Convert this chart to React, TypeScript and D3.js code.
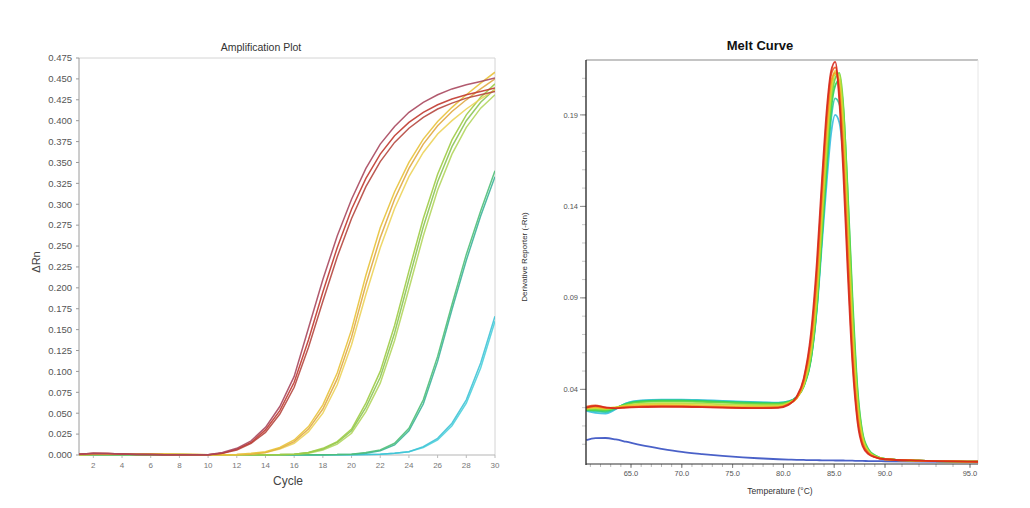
import React from 'react';
import * as d3 from 'd3';

// ---------- Amplification plot data ----------
const cycles = [1,2,3,4,5,6,7,8,9,10,11,12,13,14,15,16,17,18,19,20,21,22,23,24,25,26,27,28,29,30];
const ampYTicks = [0,0.025,0.05,0.075,0.1,0.125,0.15,0.175,0.2,0.225,0.25,0.275,0.3,0.325,0.35,0.375,0.4,0.425,0.45,0.475];
const ampXTicks = [2,4,6,8,10,12,14,16,18,20,22,24,26,28,30];

const ampRed1 = [0.0010,0.0022,0.0019,0.0012,0.0008,0.0006,0.0004,0.0003,0.0003,0.0004,0.003,0.008,0.017,0.033,0.058,0.094,0.152,0.210,0.262,0.306,0.343,0.372,0.393,0.410,0.422,0.431,0.438,0.443,0.447,0.451];
const ampRed2 = [0.0008,0.0018,0.0017,0.0011,0.0007,0.0005,0.0004,0.0003,0.0003,0.0004,0.002,0.007,0.015,0.030,0.053,0.087,0.138,0.195,0.248,0.294,0.331,0.360,0.382,0.398,0.410,0.419,0.426,0.431,0.435,0.439];
const ampRed3 = [0.0009,0.0020,0.0018,0.0012,0.0007,0.0005,0.0004,0.0003,0.0003,0.0003,0.002,0.006,0.014,0.027,0.049,0.081,0.129,0.184,0.237,0.283,0.321,0.351,0.374,0.391,0.404,0.414,0.421,0.427,0.431,0.435];
const ampYellow1 = [0.0006,0.0010,0.0010,0.0008,0.0009,0.0012,0.0011,0.0008,0.0005,0.0004,0.0004,0.0005,0.002,0.004,0.009,0.018,0.034,0.060,0.098,0.150,0.215,0.272,0.315,0.350,0.378,0.399,0.416,0.431,0.445,0.458];
const ampYellow2 = [0.0005,0.0009,0.0010,0.0009,0.0010,0.0012,0.0010,0.0007,0.0005,0.0004,0.0004,0.0005,0.001,0.003,0.008,0.016,0.031,0.055,0.091,0.141,0.204,0.260,0.306,0.343,0.372,0.394,0.411,0.425,0.438,0.450];
const ampYellow3 = [0.0006,0.0009,0.0009,0.0008,0.0009,0.0011,0.0010,0.0007,0.0005,0.0004,0.0004,0.0004,0.001,0.003,0.007,0.014,0.028,0.050,0.084,0.132,0.192,0.248,0.295,0.333,0.362,0.384,0.400,0.414,0.426,0.437];
const ampLime1 = [0.0004,0.0006,0.0007,0.0006,0.0006,0.0007,0.0007,0.0006,0.0004,0.0003,0.0003,0.0003,0.0004,0.0004,0.0005,0.001,0.003,0.008,0.016,0.031,0.062,0.100,0.155,0.220,0.283,0.336,0.377,0.407,0.428,0.444];
const ampLime2 = [0.0004,0.0005,0.0006,0.0006,0.0006,0.0007,0.0006,0.0005,0.0004,0.0003,0.0003,0.0003,0.0003,0.0004,0.0005,0.001,0.003,0.007,0.015,0.029,0.057,0.093,0.146,0.210,0.273,0.327,0.369,0.400,0.422,0.438];
const ampLime3 = [0.0004,0.0006,0.0006,0.0005,0.0006,0.0006,0.0006,0.0005,0.0004,0.0003,0.0003,0.0003,0.0003,0.0004,0.0004,0.001,0.002,0.006,0.013,0.026,0.052,0.086,0.137,0.199,0.262,0.317,0.360,0.392,0.415,0.431];
const ampGreen1 = [0.0003,0.0004,0.0004,0.0004,0.0004,0.0004,0.0004,0.0003,0.0003,0.0003,0.0003,0.0003,0.0003,0.0003,0.0003,0.0003,0.0004,0.0004,0.0005,0.001,0.003,0.006,0.014,0.032,0.066,0.118,0.180,0.240,0.292,0.340];
const ampGreen2 = [0.0003,0.0004,0.0004,0.0004,0.0004,0.0004,0.0003,0.0003,0.0003,0.0003,0.0003,0.0003,0.0003,0.0003,0.0003,0.0003,0.0004,0.0004,0.0005,0.001,0.002,0.005,0.012,0.029,0.061,0.112,0.174,0.233,0.286,0.333];
const ampCyan1 = [0.0003,0.0003,0.0003,0.0003,0.0003,0.0003,0.0003,0.0003,0.0003,0.0003,0.0003,0.0003,0.0003,0.0003,0.0003,0.0003,0.0003,0.0003,0.0003,0.0004,0.0005,0.001,0.002,0.004,0.010,0.020,0.038,0.066,0.110,0.166];
const ampCyan2 = [0.0003,0.0003,0.0003,0.0003,0.0003,0.0003,0.0003,0.0003,0.0003,0.0003,0.0003,0.0003,0.0003,0.0003,0.0003,0.0003,0.0003,0.0003,0.0003,0.0004,0.0005,0.001,0.002,0.004,0.009,0.018,0.035,0.062,0.104,0.160];

const ampSeries = [
  { values: ampCyan2, color: '#4dd0dc' },
  { values: ampCyan1, color: '#3fc3d6' },
  { values: ampGreen2, color: '#3cb39a' },
  { values: ampGreen1, color: '#4fbf78' },
  { values: ampLime3, color: '#b2d65e' },
  { values: ampLime2, color: '#8cc456' },
  { values: ampLime1, color: '#9fcc45' },
  { values: ampYellow3, color: '#ecd35a' },
  { values: ampYellow2, color: '#e0a844' },
  { values: ampYellow1, color: '#e8c23a' },
  { values: ampRed3, color: '#b5473f' },
  { values: ampRed2, color: '#c0392f' },
  { values: ampRed1, color: '#a9485e' },
];

// ---------- Melt curve data ----------
const temps = [60.6,61.5,62.5,63.5,64.5,66,68,70,72,74,76,78,79.5,80.5,81.3,82,82.7,83.3,83.8,84.3,84.7,85.1,85.5,85.9,86.3,86.8,87.3,87.8,88.4,89,90,92,95,99];
const meltXTicks = [65,70,75,80,85,90,95];
const meltYTicks = [0.04,0.09,0.14,0.19];

const meltRed = [0.0300,0.0310,0.0302,0.0296,0.0300,0.0303,0.0305,0.0305,0.0303,0.0300,0.0298,0.0297,0.0299,0.0315,0.036,0.046,0.070,0.110,0.155,0.195,0.214,0.219,0.198,0.158,0.108,0.054,0.022,0.009,0.0045,0.003,0.0018,0.001,0.0005,0.0];
const meltOrangeRed = [0.0305,0.0312,0.0300,0.0297,0.0302,0.0306,0.0307,0.0306,0.0304,0.0301,0.0299,0.0299,0.0301,0.0318,0.0355,0.045,0.067,0.105,0.150,0.191,0.212,0.216,0.202,0.165,0.115,0.058,0.024,0.010,0.005,0.003,0.0018,0.001,0.0005,0.0];
const meltOrange = [0.0298,0.0304,0.0298,0.0299,0.0305,0.0309,0.0311,0.0310,0.0307,0.0304,0.0302,0.0301,0.0303,0.032,0.035,0.044,0.064,0.100,0.144,0.186,0.208,0.213,0.205,0.172,0.122,0.064,0.027,0.011,0.005,0.003,0.0018,0.001,0.0005,0.0];
const meltYellow = [0.0296,0.0300,0.0297,0.0302,0.0310,0.0316,0.0318,0.0317,0.0314,0.0310,0.0308,0.0306,0.0307,0.0323,0.0352,0.043,0.062,0.096,0.139,0.181,0.205,0.214,0.209,0.180,0.130,0.070,0.030,0.012,0.0055,0.0032,0.0018,0.001,0.0005,0.0];
const meltLime = [0.0293,0.0296,0.0292,0.0300,0.0313,0.0322,0.0325,0.0325,0.0322,0.0318,0.0315,0.0313,0.0313,0.0326,0.0353,0.042,0.059,0.091,0.133,0.175,0.201,0.212,0.212,0.188,0.140,0.078,0.034,0.014,0.006,0.0035,0.002,0.001,0.0005,0.0];
const meltGreen = [0.0290,0.0290,0.0287,0.0300,0.0318,0.0330,0.0334,0.0334,0.0331,0.0327,0.0323,0.0320,0.0320,0.0330,0.0355,0.042,0.057,0.087,0.127,0.169,0.197,0.210,0.213,0.195,0.150,0.086,0.038,0.015,0.0065,0.0038,0.002,0.001,0.0005,0.0];
const meltGreen2 = [0.0288,0.0286,0.0282,0.0298,0.0320,0.0334,0.0338,0.0338,0.0335,0.0331,0.0327,0.0324,0.0323,0.0332,0.0356,0.0415,0.056,0.085,0.124,0.165,0.193,0.206,0.209,0.193,0.152,0.090,0.040,0.016,0.007,0.004,0.002,0.001,0.0005,0.0];
const meltTeal = [0.0286,0.0280,0.0276,0.0295,0.0322,0.0337,0.0341,0.0341,0.0338,0.0334,0.0330,0.0327,0.0326,0.0334,0.0357,0.042,0.057,0.086,0.124,0.162,0.188,0.199,0.196,0.176,0.134,0.076,0.033,0.013,0.006,0.0035,0.002,0.001,0.0005,0.0];
const meltCyan = [0.0282,0.0272,0.0268,0.0292,0.0324,0.0340,0.0344,0.0344,0.0341,0.0337,0.0333,0.0329,0.0327,0.0335,0.0358,0.042,0.056,0.084,0.120,0.156,0.180,0.190,0.186,0.166,0.126,0.070,0.030,0.012,0.0055,0.0032,0.0018,0.001,0.0005,0.0];
const meltBlue = [0.0122,0.0133,0.0134,0.0126,0.0114,0.0095,0.0075,0.0058,0.0046,0.0036,0.0028,0.0022,0.0018,0.0016,0.0015,0.0014,0.0013,0.0013,0.0012,0.0012,0.0012,0.0011,0.0011,0.0011,0.0010,0.0010,0.0009,0.0009,0.0008,0.0008,0.0007,0.0005,0.0003,0.0];

const meltSeries = [
  { values: meltBlue, color: '#3650c2' },
  { values: meltCyan, color: '#36bde0' },
  { values: meltTeal, color: '#2cc9a4' },
  { values: meltGreen2, color: '#2fcf5a' },
  { values: meltGreen, color: '#62d640' },
  { values: meltLime, color: '#b4dc36' },
  { values: meltYellow, color: '#e6d235' },
  { values: meltOrange, color: '#f2a01a' },
  { values: meltOrangeRed, color: '#ee5c22' },
  { values: meltRed, color: '#d6281c' },
];

const FONT = "Arial, 'Liberation Sans', sans-serif";

export default function App() {
  // Amplification scales
  const ax = d3.scaleLinear().domain([1, 30]).range([79, 495]);
  const ay = d3.scaleLinear().domain([0, 0.475]).range([455, 58]);
  const ampLine = d3.line<number>().x((_, i) => ax(cycles[i])).y(d => ay(d));

  // Melt scales (the reference's temperature axis stretches after 90 °C)
  const mx = d3.scaleLinear().domain([60.57, 90, 95, 95.47]).range([586, 885, 970, 978]);
  const my = d3.scaleLinear().domain([-0.0008, 0.22]).range([464, 60]);
  const meltLine = d3.line<number>().x((_, i) => mx(temps[i])).y(d => my(d)).curve(d3.curveMonotoneX);
  const xMinor = d3.range(61, 96, 1);
  const yMinor = d3.range(0.01, 0.215, 0.01);

  return (
    <svg width={1030} height={508} style={{ position: 'absolute', left: 0, top: 0, background: '#fff' }} fontFamily={FONT}>
      <defs>
        <clipPath id="ampClip"><rect x={79} y={58} width={416} height={398} /></clipPath>
        <clipPath id="meltClip"><rect x={586} y={60} width={392} height={405} /></clipPath>
      </defs>
      <rect x={0} y={0} width={1030} height={508} fill="#fff" />

      {/* ===== Amplification Plot ===== */}
      <text x={261} y={51} textAnchor="middle" fontSize={10.5} fill="#333">Amplification Plot</text>
      <line x1={79} x2={495} y1={58} y2={58} stroke="#d4d4d4" />
      <line x1={495} x2={495} y1={58} y2={455} stroke="#d4d4d4" />
      <line x1={79} x2={79} y1={58} y2={455} stroke="#9a9a9a" />
      <line x1={79} x2={495} y1={455} y2={455} stroke="#b5b5b5" />
      {ampYTicks.map(t => (
        <g key={'ay' + t}>
          <line x1={76} x2={79} y1={ay(t)} y2={ay(t)} stroke="#999" />
          <text x={72} y={ay(t)} dy="0.35em" textAnchor="end" fontSize={9.5} fill="#555">{d3.format('.3f')(t)}</text>
        </g>
      ))}
      {ampXTicks.map(t => (
        <g key={'ax' + t}>
          <line x1={ax(t)} x2={ax(t)} y1={455} y2={458} stroke="#bbb" />
          <text x={ax(t)} y={468} textAnchor="middle" fontSize={8} fill="#777">{t}</text>
        </g>
      ))}
      <text x={288} y={485} textAnchor="middle" fontSize={12} fill="#444">Cycle</text>
      <text transform="translate(40,262) rotate(-90)" textAnchor="middle" fontSize={11} fill="#444">ΔRn</text>
      <g clipPath="url(#ampClip)">
        {ampSeries.map((s, i) => (
          <path key={'amp' + i} d={ampLine(s.values) || ''} fill="none" stroke={s.color} strokeWidth={1.5} strokeOpacity={0.9} />
        ))}
      </g>

      {/* ===== Melt Curve ===== */}
      <text x={760} y={50} textAnchor="middle" fontSize={13} fontWeight="bold" fill="#111">Melt Curve</text>
      <line x1={586} x2={978} y1={60} y2={60} stroke="#8a8a8a" strokeWidth={1.2} />
      <line x1={978} x2={978} y1={60} y2={464} stroke="#e6e6e6" />
      {yMinor.map(t => (
        <line key={'mym' + t} x1={582} x2={586} y1={my(t)} y2={my(t)} stroke="#c8c8c8" />
      ))}
      {meltYTicks.map(t => (
        <g key={'my' + t}>
          <line x1={580} x2={586} y1={my(t)} y2={my(t)} stroke="#888" />
          <text x={578} y={my(t)} dy="0.35em" textAnchor="end" fontSize={7.5} fill="#555">{d3.format('.2f')(t)}</text>
        </g>
      ))}
      {xMinor.map(t => (
        <line key={'mxm' + t} x1={mx(t)} x2={mx(t)} y1={464} y2={467} stroke="#b8b8b8" />
      ))}
      {meltXTicks.map(t => (
        <g key={'mx' + t}>
          <line x1={mx(t)} x2={mx(t)} y1={464} y2={468} stroke="#888" />
          <text x={mx(t)} y={476} textAnchor="middle" fontSize={7.5} fill="#555">{d3.format('.1f')(t)}</text>
        </g>
      ))}
      <text x={780} y={494} textAnchor="middle" fontSize={8.5} fill="#333">Temperature (°C)</text>
      <text transform="translate(527,257) rotate(-90)" textAnchor="middle" fontSize={8} fill="#333">Derivative Reporter (-Rn)</text>
      <g clipPath="url(#meltClip)">
        {meltSeries.map((s, i) => (
          <path key={'melt' + i} d={meltLine(s.values) || ''} fill="none" stroke={s.color} strokeWidth={1.8} strokeOpacity={0.9} />
        ))}
      </g>
      <line x1={586} x2={586} y1={60} y2={465} stroke="#222" strokeWidth={1.3} />
      <line x1={586} x2={978} y1={464} y2={464} stroke="#333" strokeWidth={1.2} />
    </svg>
  );
}
